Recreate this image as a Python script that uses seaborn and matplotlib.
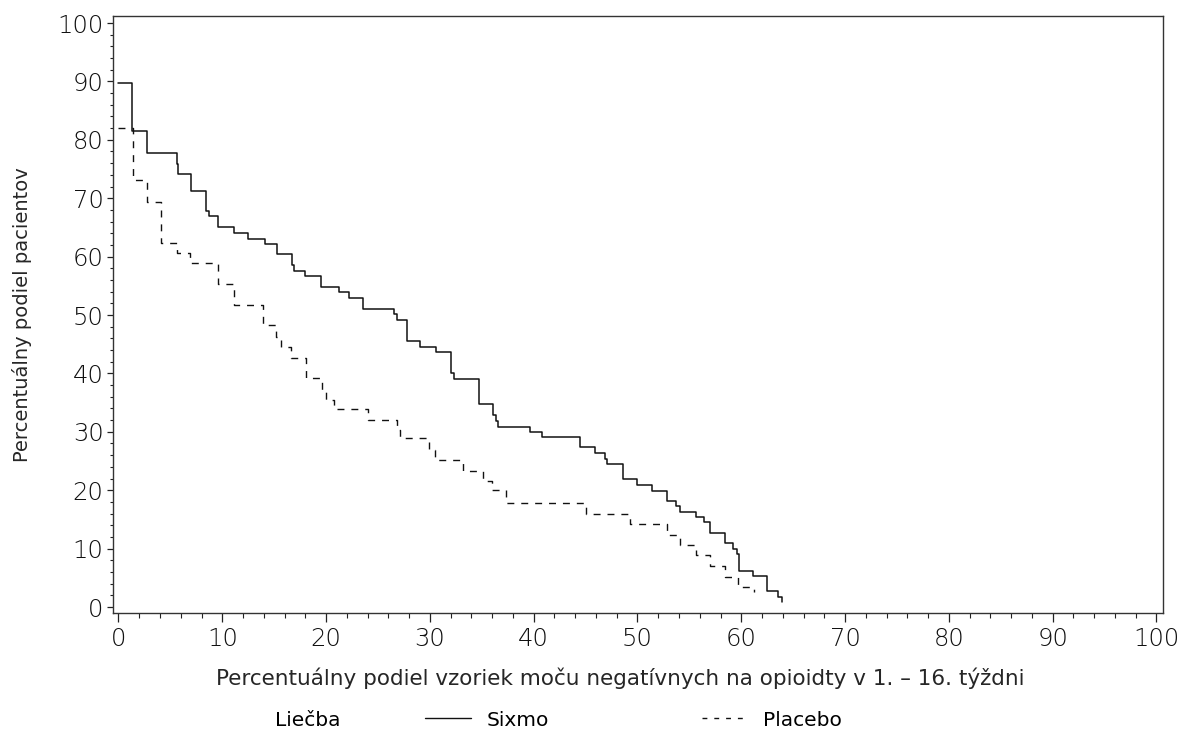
import matplotlib
matplotlib.use("Agg")
import matplotlib.pyplot as plt
from matplotlib import font_manager as fm
from matplotlib.lines import Line2D
from matplotlib.ticker import MultipleLocator
import seaborn as sns

# step curves: x where the value changes, value from that x onward
sixmo_x = [0, 1.35, 2.7, 5.6, 5.7, 7.0, 8.4, 8.7, 9.6, 11.1, 12.5, 14.1, 15.3, 16.7,
           16.9, 18.0, 19.5, 21.2, 22.2, 23.6, 26.5, 26.8, 27.8, 29.0, 30.6, 32.0,
           32.3, 34.7, 36.1, 36.4, 36.6, 39.6, 40.8, 44.5, 45.9, 46.9, 47.1, 48.6,
           50.0, 51.4, 52.8, 53.7, 54.1, 55.6, 56.4, 57.0, 58.4, 59.2, 59.6, 59.8,
           61.1, 62.5, 63.5, 63.9]
sixmo_y = [89.8, 81.5, 77.8, 75.9, 74.1, 71.3, 67.8, 66.9, 65.0, 64.0, 63.1, 62.2, 60.4, 58.5,
           57.5, 56.6, 54.8, 54.0, 52.9, 51.1, 50.1, 49.2, 45.6, 44.6, 43.7, 40.0,
           39.1, 34.7, 32.9, 31.9, 30.9, 30.0, 29.1, 27.4, 26.4, 25.4, 24.5, 21.9,
           20.9, 19.9, 18.1, 17.3, 16.3, 15.4, 14.5, 12.6, 10.9, 9.9, 9.0, 6.1,
           5.3, 2.7, 1.7, 0.8]

placebo_x = [0, 1.4, 2.75, 4.1, 5.6, 6.9, 9.6, 11.1, 13.9, 15.2, 15.7, 16.6, 18.1, 19.6,
             20.0, 20.8, 24.0, 26.8, 27.1, 29.9, 30.5, 33.2, 35.1, 36.0, 37.3, 45.0,
             49.3, 52.8, 54.1, 55.6, 57.0, 58.4, 59.7, 61.2]
placebo_y = [82.0, 73.1, 69.4, 62.4, 60.7, 58.9, 55.3, 51.7, 48.3, 46.3, 44.6, 42.7, 39.2, 37.2,
             35.4, 33.9, 32.0, 30.3, 28.9, 26.9, 25.1, 23.3, 21.5, 20.0, 17.8, 16.0,
             14.2, 12.4, 10.6, 8.9, 7.1, 5.2, 3.5, 2.6]

legend_title = "Liečba"
groups = ["Sixmo", "Placebo"]
xlabel = "Percentuálny podiel vzoriek moču negatívnych na opioidty v 1. \u2013 16. týždni"
ylabel = "Percentuálny podiel pacientov"

FS = 14.5  # legend text size


def light_font(size):
    # thin face for the tick numbers, whatever is installed
    for name in ["DejaVu Sans", "Open Sans", "Lato", "Roboto", "Inter", "Noto Sans"]:
        for f in fm.fontManager.ttflist:
            w = f.weight
            if isinstance(w, str):
                w = fm.weight_dict.get(w, 400)
            if f.name == name and w <= 300 and f.style == "normal":
                return fm.FontProperties(fname=f.fname, size=size)
    return fm.FontProperties(family="DejaVu Sans", size=size)


sns.set_style("ticks")
plt.rcParams["font.family"] = ["DejaVu Sans"]
plt.rcParams["text.color"] = "black"

fig = plt.figure(figsize=(11.85, 7.31), dpi=100)
ax = fig.add_axes([0.0956, 0.1614, 0.8856, 0.8167])

sns.lineplot(x=sixmo_x, y=sixmo_y, ax=ax, color="#111111", lw=1.1,
             drawstyle="steps-post", estimator=None, sort=False)
sns.lineplot(x=placebo_x, y=placebo_y, ax=ax, color="#111111", lw=1.0,
             drawstyle="steps-post", estimator=None, sort=False,
             linestyle=(0, (5, 5)))

ax.set_xlim(-0.5, 100.6)
ax.set_ylim(-1.03, 101.2)
ax.xaxis.set_major_locator(MultipleLocator(10))
ax.xaxis.set_minor_locator(MultipleLocator(2))
ax.yaxis.set_major_locator(MultipleLocator(10))
ax.yaxis.set_minor_locator(MultipleLocator(2))
ax.tick_params(axis="x", which="major", length=6.5, width=0.9, direction="out", pad=3.5, colors="#222222")
ax.tick_params(axis="x", which="minor", length=3.4, width=0.8, direction="out", colors="#222222")
ax.tick_params(axis="y", which="major", length=4.5, width=0.9, direction="out", pad=2.5, colors="#222222")
ax.tick_params(axis="y", which="minor", length=2.4, width=0.8, direction="out", colors="#222222")

fp = light_font(17.5)
for lab in ax.get_xticklabels() + ax.get_yticklabels():
    lab.set_fontproperties(fp)
    lab.set_color("#111111")

for s in ax.spines.values():
    s.set_visible(True)
    s.set_color("#333333")
    s.set_linewidth(1.0)

ax.set_xlabel(xlabel, fontsize=15.5)
ax.set_ylabel(ylabel, fontsize=14)
ax.xaxis.set_label_coords(0.483, -0.092)
ax.yaxis.set_label_coords(-0.077, 0.5)

# legend row under the x label
fig.text(308 / 1185, 1 - 720 / 731, legend_title, fontsize=FS, ha="center", va="center")
handles = [Line2D([], [], color="#111111", lw=1.0),
           Line2D([], [], color="#111111", lw=1.0, linestyle=(0, (3.5, 5)))]
fig.legend(handles, groups, ncol=2, frameon=False, fontsize=FS,
           loc="center left", bbox_to_anchor=(425 / 1185, 1 - 720 / 731),
           handlelength=2.3, handletextpad=0.75, columnspacing=7.6, borderaxespad=0, borderpad=0)

fig.savefig("out.png", dpi=100, facecolor="white")
